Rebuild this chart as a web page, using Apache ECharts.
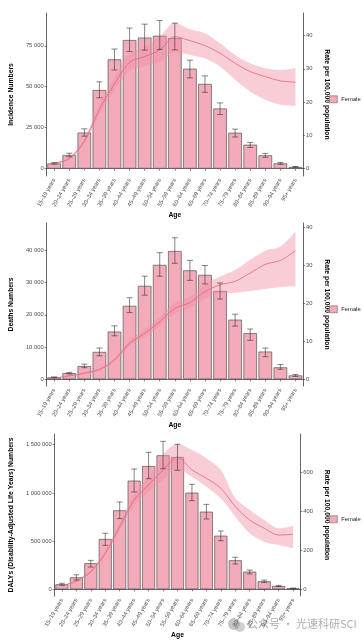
<!DOCTYPE html>
<html><head><meta charset="utf-8">
<script src="https://cdn.jsdelivr.net/npm/echarts@6/dist/echarts.min.js"></script>
<style>html,body{margin:0;padding:0;background:#fff}#c{width:364px;height:641px}</style>
</head><body><div id="c"></div>
<script>
// ---------- DATA ----------
const ages = ['15–19 years','20–24 years','25–29 years','30–34 years','35–39 years','40–44 years','45–49 years','50–54 years','55–59 years','60–64 years','65–69 years','70–74 years','75–79 years','80–84 years','85–89 years','90–94 years','95+ years'];

const incidence     = [3200, 8300, 22000, 48000, 66700, 78500, 80000, 81100, 79700, 61000, 51700, 36700, 21900, 14600, 8100, 3200, 1000];
const incidenceLow  = [2700, 7300, 19800, 43300, 60200, 71500, 72300, 72800, 72500, 55400, 46600, 33000, 19300, 12900, 6900, 2600, 800];
const incidenceHigh = [3700, 9400, 24300, 53000, 73000, 85800, 88200, 90400, 88800, 66200, 56600, 40100, 24100, 16000, 9300, 3800, 1300];
const incidenceRate     = [1.6, 3.0, 8.3, 17.8, 25.5, 32.0, 33.7, 35.7, 39.7, 38.5, 37.0, 34.7, 31.7, 29.2, 27.7, 26.4, 26.0];
const incidenceRateLow  = [1.4, 2.6, 7.5, 16.3, 23.5, 29.5, 30.8, 32.0, 35.0, 34.2, 33.2, 30.7, 26.7, 23.2, 20.7, 19.2, 18.9];
const incidenceRateHigh = [1.8, 3.4, 9.1, 19.3, 27.5, 34.5, 36.6, 39.8, 43.9, 41.9, 40.7, 37.7, 34.2, 31.7, 30.2, 29.7, 30.2];

const deaths     = [600, 1900, 4100, 8500, 14800, 22800, 29000, 35500, 39800, 33800, 32400, 27400, 18500, 14300, 8600, 3700, 1200];
const deathsLow  = [500, 1650, 3600, 7300, 13500, 20700, 26100, 32000, 36000, 30700, 29600, 24900, 16500, 12100, 7000, 3100, 900];
const deathsHigh = [750, 2150, 4700, 9700, 16600, 25300, 32000, 39300, 43900, 36900, 35300, 29900, 20200, 15600, 9700, 4600, 1500];
const deathsRate     = [0.26, 0.9, 1.6, 2.6, 5.1, 9.5, 12.1, 15.2, 18.7, 20.2, 23.1, 24.9, 25.8, 28.0, 30.3, 31.3, 33.9];
const deathsRateLow  = [0.2, 0.75, 1.4, 2.3, 4.6, 8.7, 11.1, 14.0, 17.3, 18.7, 21.2, 22.6, 22.8, 23.3, 23.8, 24.3, 24.5];
const deathsRateHigh = [0.32, 1.05, 1.8, 2.9, 5.6, 10.3, 13.1, 16.4, 20.1, 21.8, 25.0, 27.1, 28.8, 31.5, 33.9, 35.0, 38.9];

const dalys     = [52000, 124000, 270000, 522000, 819000, 1127000, 1279000, 1390000, 1372000, 1002000, 805000, 556000, 301000, 183000, 83000, 34000, 10000];
const dalysLow  = [42000, 96000, 231000, 456000, 733000, 1009000, 1147000, 1251000, 1234000, 919000, 729000, 504000, 262000, 159000, 70000, 28000, 7000];
const dalysHigh = [62000, 151000, 300000, 581000, 906000, 1248000, 1421000, 1535000, 1504000, 1089000, 881000, 605000, 332000, 200000, 95000, 41000, 13000];
const dalysRate     = [18, 42, 90, 185, 321, 458, 535, 612, 677, 612, 569, 518, 424, 355, 313, 278, 282];
const dalysRateLow  = [16, 38, 83, 172, 300, 428, 498, 560, 615, 577, 526, 467, 372, 287, 244, 227, 210];
const dalysRateHigh = [20, 46, 97, 198, 342, 490, 575, 690, 745, 714, 672, 612, 468, 407, 355, 313, 325];

const incidenceTicks = [0, 25000, 50000, 75000];
const deathsTicks = [0, 10000, 20000, 30000, 40000];
const dalysTicks = [0, 500000, 1000000, 1500000];
const incidenceRateTicks = [0, 10, 20, 30, 40];
const deathsRateTicks = [0, 10, 20, 30, 40];
const dalysRateTicks = [0, 200, 400, 600];

// ---------- LAYOUT / STYLE ----------
const FONT = 'Liberation Sans, Arial, sans-serif';
const BAR = '#F3ABBA', BAR_BORDER = '#555555', LINE = '#E5637C', BAND = 'rgba(240,144,165,0.45)';
const panels = [
  {title:'Incidence Numbers', c:incidence, lo:incidenceLow, hi:incidenceHigh, r:incidenceRate, rlo:incidenceRateLow, rhi:incidenceRateHigh,
   lt:incidenceTicks, rt:incidenceRateTicks, grid:{left:44, top:13, width:259, height:163}, lmin:-4500, lmax:95000, rmin:-2.2, rmax:46.8, lgap:21.6, rgap:10.6, legTop:95.5},
  {title:'Deaths Numbers', c:deaths, lo:deathsLow, hi:deathsHigh, r:deathsRate, rlo:deathsRateLow, rhi:deathsRateHigh,
   lt:deathsTicks, rt:deathsRateTicks, grid:{left:44, top:223, width:259, height:163}, lmin:-2080, lmax:48500, rmin:-1.77, rmax:41.2, lgap:21.6, rgap:10.6, legTop:305.5},
  {title:'DALYs (Disability-Adjusted Life Years) Numbers', c:dalys, lo:dalysLow, hi:dalysHigh, r:dalysRate, rlo:dalysRateLow, rhi:dalysRateHigh,
   lt:dalysTicks, rt:dalysRateTicks, grid:{left:52.7, top:434, width:247.6, height:162}, lmin:-69500, lmax:1611000, rmin:-34.4, rmax:796, lgap:30.3, rgap:13.3, legTop:515.5}
];

function fmt(v){ return String(v).replace(/\B(?=(\d{3})+(?!\d))/g, ' '); }

const grid=[], xAxis=[], yAxis=[], series=[], legend=[];
panels.forEach((p, g) => {
  grid.push(Object.assign({containLabel:false}, p.grid));
  xAxis.push({type:'category', gridIndex:g, data:ages, boundaryGap:true,
    name:'Age', nameLocation:'middle', nameGap:35.5,
    nameTextStyle:{fontFamily:FONT, fontWeight:'bold', fontSize:6.8, color:'#000'},
    axisLine:{show:true, lineStyle:{color:'#222', width:0.7}},
    axisTick:{show:true, alignWithLabel:true, interval:0, length:2, lineStyle:{color:'#333', width:0.6}},
    axisLabel:{interval:0, rotate:60, fontSize:5.7, color:'#4d4d4d', fontFamily:FONT, margin:3},
    splitLine:{show:false}});
  yAxis.push({type:'value', gridIndex:g, position:'left', min:p.lmin, max:p.lmax,
    name:p.title, nameLocation:'middle', nameGap:p.lgap, nameRotate:90,
    nameTextStyle:{fontFamily:FONT, fontWeight:'bold', fontSize:6.8, color:'#000'},
    axisLine:{show:true, lineStyle:{color:'#222', width:0.7}},
    axisTick:{show:true, length:2, customValues:p.lt, lineStyle:{color:'#333', width:0.6}},
    axisLabel:{customValues:p.lt, formatter:fmt, fontSize:5.8, color:'#4d4d4d', fontFamily:FONT, margin:3},
    splitLine:{show:false}});
  yAxis.push({type:'value', gridIndex:g, position:'right', min:p.rmin, max:p.rmax,
    name:'Rate per 100,000 population', nameLocation:'middle', nameGap:p.rgap, nameRotate:-90,
    nameTextStyle:{fontFamily:FONT, fontWeight:'bold', fontSize:6.8, color:'#000'},
    axisLine:{show:true, lineStyle:{color:'#222', width:0.7}},
    axisTick:{show:true, length:2, customValues:p.rt, lineStyle:{color:'#333', width:0.6}},
    axisLabel:{customValues:p.rt, fontSize:5.8, color:'#4d4d4d', fontFamily:FONT, margin:3},
    splitLine:{show:false}});
  const ly = 2*g, ry = 2*g+1;
  series.push({type:'bar', name:'Female', xAxisIndex:g, yAxisIndex:ly, data:p.c, barCategoryGap:'10%',
    itemStyle:{color:BAR, borderColor:BAR_BORDER, borderWidth:0.7}, z:2, silent:true});
  series.push({type:'line', name:'bandLow'+g, xAxisIndex:g, yAxisIndex:ry, data:p.rlo, stack:'band'+g,
    symbol:'none', smooth:0.3, lineStyle:{opacity:0}, z:3, silent:true});
  series.push({type:'line', name:'bandHigh'+g, xAxisIndex:g, yAxisIndex:ry, data:p.rhi.map((v,i)=>+(v-p.rlo[i]).toFixed(3)), stack:'band'+g,
    symbol:'none', smooth:0.3, lineStyle:{opacity:0}, areaStyle:{color:BAND, opacity:1}, z:3, silent:true});
  series.push({type:'line', name:'rate'+g, xAxisIndex:g, yAxisIndex:ry, data:p.r,
    symbol:'none', smooth:0.3, lineStyle:{color:LINE, width:0.8}, z:4, silent:true});
  series.push({type:'custom', name:'err'+g, xAxisIndex:g, yAxisIndex:ly, z:5, silent:true,
    data:ages.map((a,i)=>[i, p.lo[i], p.hi[i]]), encode:{x:0, y:[1,2]},
    renderItem:function(params, api){
      const i = api.value(0);
      const top = api.coord([i, api.value(2)]);
      const bot = api.coord([i, api.value(1)]);
      const cw = api.size([1,0])[0]*0.2;
      const st = {stroke:'#333', lineWidth:0.6};
      return {type:'group', children:[
        {type:'line', shape:{x1:top[0], y1:top[1], x2:bot[0], y2:bot[1]}, style:st},
        {type:'line', shape:{x1:top[0]-cw, y1:top[1], x2:top[0]+cw, y2:top[1]}, style:st},
        {type:'line', shape:{x1:bot[0]-cw, y1:bot[1], x2:bot[0]+cw, y2:bot[1]}, style:st}
      ]};
    }});
  legend.push({data:['Female'], left:329, top:p.legTop, orient:'vertical', padding:0,
    itemWidth:8, itemHeight:7, itemGap:2, icon:'rect', selectedMode:false,
    itemStyle:{color:BAR, borderColor:'#666', borderWidth:0.6},
    textStyle:{fontSize:5.8, color:'#222', fontFamily:FONT, padding:[0,0,0,-1]}});
});

const chart = echarts.init(document.getElementById('c'), null, {renderer:'canvas'});
chart.setOption({
  animation:false,
  backgroundColor:'#fff',
  grid, xAxis, yAxis, series, legend,
  graphic:[
    {type:'group', left:228, top:618, silent:true, children:[
      {type:'circle', shape:{cx:6, cy:6, r:6}, style:{fill:'rgba(150,150,150,0.55)'}},
      {type:'circle', shape:{cx:12, cy:9, r:5}, style:{fill:'rgba(150,150,150,0.45)'}}
    ]},
    {type:'text', left:247, top:618, silent:true,
     style:{text:'公众号 · 光速科研SCI', fontSize:11, fill:'rgba(160,160,160,0.85)', fontFamily:'Noto Sans CJK SC'}}
  ]
});
</script></body></html>
